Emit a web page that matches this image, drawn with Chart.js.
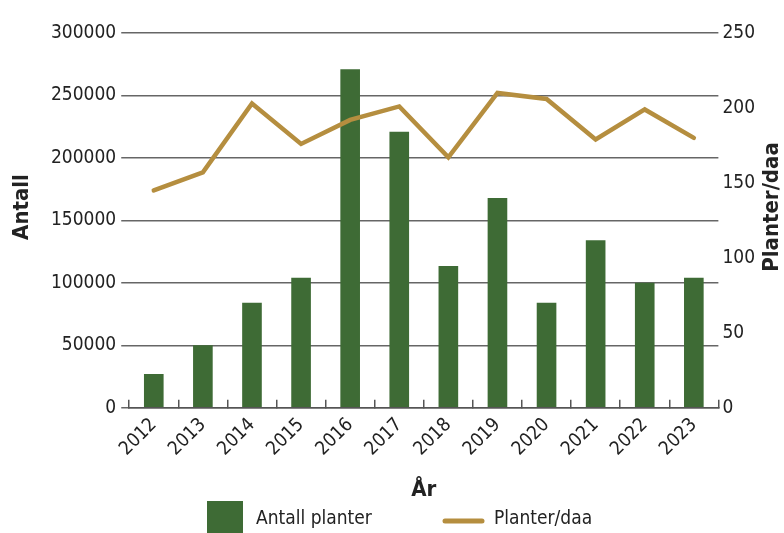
<!DOCTYPE html>
<head>
    <title>Antall planter</title>
    <script src="https://cdn.jsdelivr.net/npm/chart.js@4.4.1/dist/chart.umd.min.js"></script>
    <style>
        body { margin: 0; background: #fff; }
    </style>
</head>
<body>
    <canvas id="chart" width="784" height="533"></canvas>
    <script>
// data
var years = ['2012','2013','2014','2015','2016','2017','2018','2019','2020','2021','2022','2023'];
var antallPlanter = [27000, 50000, 84000, 104000, 271000, 221000, 113500, 168000, 84000, 134000, 100000, 104000];
var planterPerDaa = [145, 157, 203, 176, 192, 201, 167, 210, 206, 179, 199, 180];
var leftTicks = [0, 50000, 100000, 150000, 200000, 250000, 300000];
var rightTicks = [0, 50, 100, 150, 200, 250];

var green = '#3e6b35';
var gold = '#b58e3f';
var fontName = "'DejaVu Sans Condensed', 'Liberation Sans Narrow', sans-serif";

// legend + rotated axis titles drawn by hand (big box, line sample, bottom-to-top titles)
var extras = {
    id: 'extras',
    afterDraw: function(chart) {
        var c = chart.ctx;
        c.save();
        c.fillStyle = green;
        c.fillRect(207, 501, 36, 32);
        c.strokeStyle = gold;
        c.lineWidth = 5;
        c.lineCap = 'round';
        c.beginPath();
        c.moveTo(445, 521);
        c.lineTo(482, 521);
        c.stroke();
        c.fillStyle = '#222';
        c.font = '19px ' + fontName;
        c.textBaseline = 'middle';
        c.fillText('Antall planter', 256, 519);
        c.fillText('Planter/daa', 494, 519);

        c.font = 'bold 22px ' + fontName;
        c.textAlign = 'center';
        c.translate(22, 207);
        c.rotate(-Math.PI / 2);
        c.fillText('Antall', 0, 0);
        c.setTransform(1, 0, 0, 1, 0, 0);
        c.translate(772, 207);
        c.rotate(-Math.PI / 2);
        c.fillText('Planter/daa', 0, 0);
        c.restore();
    }
};

var ctx = document.getElementById('chart').getContext('2d');
var myChart = new Chart(ctx, {
    data: {
        labels: years,
        datasets: [{
            type: 'line',
            label: 'Planter/daa',
            data: planterPerDaa,
            yAxisID: 'y2',
            borderColor: gold,
            borderWidth: 4.5,
            pointRadius: 0,
            tension: 0,
            borderCapStyle: 'round',
            order: 1
        }, {
            type: 'bar',
            label: 'Antall planter',
            data: antallPlanter,
            yAxisID: 'y',
            backgroundColor: green,
            barPercentage: 0.4,
            categoryPercentage: 1,
            order: 2
        }]
    },
    options: {
        responsive: false,
        animation: false,
        layout: { padding: { top: 33, bottom: 30, left: 46, right: 25 } },
        plugins: {
            legend: { display: false },
            tooltip: { enabled: false }
        },
        scales: {
            x: {
                offset: true,
                grid: { offset: true, drawOnChartArea: false, color: '#555', lineWidth: 1.5, tickLength: -8 },
                border: { display: true, color: '#555', width: 1.5 },
                ticks: { color: '#222', font: { family: fontName, size: 19 }, minRotation: 45, maxRotation: 45, padding: 14 },
                title: { display: true, text: 'År', color: '#222', font: { family: fontName, size: 22, weight: 'bold' }, padding: { top: 2, bottom: 0 } }
            },
            y: {
                position: 'left',
                min: 0,
                max: 300000,
                afterBuildTicks: function(axis) { axis.ticks = leftTicks.map(function(v) { return { value: v }; }); },
                grid: { color: '#666', lineWidth: 1.5, tickLength: 8 },
                border: { display: false },
                ticks: { color: '#222', font: { family: fontName, size: 19 }, padding: 5, callback: function(v) { return String(v); } },
                title: { display: false }
            },
            y2: {
                position: 'right',
                min: 0,
                max: 250,
                afterBuildTicks: function(axis) { axis.ticks = rightTicks.map(function(v) { return { value: v }; }); },
                grid: { display: false, drawOnChartArea: false, drawTicks: false },
                border: { display: false },
                ticks: { color: '#222', font: { family: fontName, size: 19 }, padding: 4, callback: function(v) { return String(v); } },
                title: { display: false }
            }
        }
    },
    plugins: [extras]
});
    </script>
</body>
